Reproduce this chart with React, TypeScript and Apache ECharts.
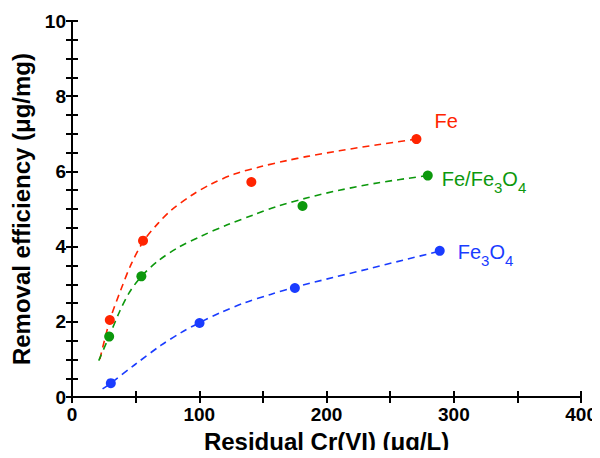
import React, { useEffect, useRef } from "react";
import * as echarts from "echarts";

// Measured points [residual Cr(VI) µg/L, removal efficiency µg/mg]
const feX = [29.7, 55.8, 140.9, 270.6];
const feY = [2.05, 4.16, 5.72, 6.86];
const feFe3O4X = [29.2, 54.5, 181.1, 279.5];
const feFe3O4Y = [1.61, 3.21, 5.08, 5.89];
const fe3O4X = [30.5, 100.2, 175.1, 288.9];
const fe3O4Y = [0.37, 1.97, 2.9, 3.89];

// Fitted (dashed) curves
const feFitX = [21.9, 29.7, 38.9, 46.7, 56.4, 67.6, 78, 93.7, 109, 127.6, 148.5, 169, 185, 210, 240, 270.6];
const feFitY = [1.01, 2.04, 2.9, 3.55, 4.16, 4.62, 4.97, 5.36, 5.66, 5.93, 6.13, 6.29, 6.4, 6.55, 6.71, 6.86];
const feFe3O4FitX = [21, 29, 37.6, 45.4, 54.5, 67.6, 83, 101.5, 122, 143, 162, 185, 210, 241, 279.5];
const feFe3O4FitY = [0.97, 1.6, 2.29, 2.8, 3.21, 3.62, 3.97, 4.28, 4.58, 4.85, 5.08, 5.3, 5.5, 5.7, 5.89];
const fe3O4FitX = [24, 30.5, 49.3, 70, 86, 100.2, 117, 135, 156, 175, 205, 233, 260, 288.9];
const fe3O4FitY = [0.22, 0.37, 0.86, 1.38, 1.72, 1.98, 2.25, 2.5, 2.73, 2.92, 3.18, 3.41, 3.64, 3.88];

const xTickLabels = [0, 100, 200, 300, 400];
const yTickLabels = [0, 2, 4, 6, 8, 10];

const RED = "#ff2400";
const GREEN = "#0c980c";
const BLUE = "#1a3cff";
const FONT = "'Liberation Sans', Arial, sans-serif";

const zip = (xs: number[], ys: number[]) => xs.map((x, i) => [x, ys[i]]);

function richFor(color: string) {
  return {
    a: { fontSize: 20, color, lineHeight: 26, verticalAlign: "top", fontFamily: FONT },
    s: { fontSize: 15, color, lineHeight: 15, verticalAlign: "bottom", fontFamily: FONT },
  };
}

export default function App() {
  const ref = useRef<HTMLDivElement>(null);
  useEffect(() => {
    if (!ref.current) return;
    const chart = echarts.init(ref.current, undefined, { renderer: "svg" });
    const axisLine = { show: true, lineStyle: { color: "#000", width: 2 } };
    const tickX = { show: true, inside: true, length: 6, lineStyle: { color: "#000", width: 2 } };
    const tickY = { show: true, inside: true, length: 6, lineStyle: { color: "#000", width: 2 } };
    const labelStyle = { fontSize: 19, fontWeight: "bold", color: "#000", fontFamily: FONT };

    const scatter = (name: string, xs: number[], ys: number[], color: string, fmt: string, offset: number[]) => ({
      type: "scatter",
      name,
      symbolSize: 10,
      itemStyle: { color, opacity: 1 },
      data: zip(xs, ys).map((p, i) =>
        i === xs.length - 1
          ? {
              value: p,
              label: {
                show: true,
                position: "right",
                distance: 5,
                offset,
                formatter: fmt,
                rich: richFor(color),
              },
            }
          : { value: p }
      ),
      z: 3,
    });
    const fit = (xs: number[], ys: number[], color: string) => ({
      type: "line",
      data: zip(xs, ys),
      smooth: 0.3,
      showSymbol: false,
      lineStyle: { color, width: 1.6, type: [7, 5] },
      z: 2,
    });

    chart.setOption({
      animation: false,
      backgroundColor: "#fff",
      grid: { left: 72, right: 17, top: 21, bottom: 58 },
      xAxis: [
        {
          type: "value",
          min: 0,
          max: 400,
          interval: 50,
          axisLine,
          axisTick: tickX,
          splitLine: { show: false },
          axisLabel: {
            ...labelStyle,
            margin: 8,
            formatter: (v: number) => (xTickLabels.includes(v) ? String(v) : ""),
          },
          name: "Residual Cr(VI) (μg/L)",
          nameLocation: "middle",
          nameGap: 31,
          nameTextStyle: { fontSize: 24, fontWeight: "bold", color: "#000", fontFamily: FONT },
        },
        {
          type: "value",
          position: "top",
          min: 0,
          max: 400,
          interval: 50,
          axisLine,
          axisTick: tickX,
          splitLine: { show: false },
          axisLabel: { show: false },
        },
      ],
      yAxis: [
        {
          type: "value",
          min: 0,
          max: 10,
          interval: 0.5,
          axisLine,
          axisTick: tickY,
          splitLine: { show: false },
          axisLabel: {
            ...labelStyle,
            margin: 6,
            formatter: (v: number) => (yTickLabels.includes(v) ? String(v) : ""),
          },
          name: "Removal efficiency (μg/mg)",
          nameLocation: "middle",
          nameGap: 36,
          nameTextStyle: { fontSize: 24, fontWeight: "bold", color: "#000", fontFamily: FONT },
        },
        {
          type: "value",
          position: "right",
          min: 0,
          max: 10,
          interval: 0.5,
          axisLine,
          axisTick: tickY,
          splitLine: { show: false },
          axisLabel: { show: false },
        },
      ],
      series: [
        fit(feFitX, feFitY, RED),
        fit(feFe3O4FitX, feFe3O4FitY, GREEN),
        fit(fe3O4FitX, fe3O4FitY, BLUE),
        scatter("Fe", feX, feY, RED, "{a|Fe}", [8, -15]),
        scatter("Fe/Fe3O4", feFe3O4X, feFe3O4Y, GREEN, "{a|Fe/Fe}{s|3}{a|O}{s|4}", [4, 6]),
        scatter("Fe3O4", fe3O4X, fe3O4Y, BLUE, "{a|Fe}{s|3}{a|O}{s|4}", [8, 4]),
      ],
    });
    return () => chart.dispose();
  }, []);
  return <div ref={ref} style={{ width: 600, height: 458, margin: -8 }} />;
}
